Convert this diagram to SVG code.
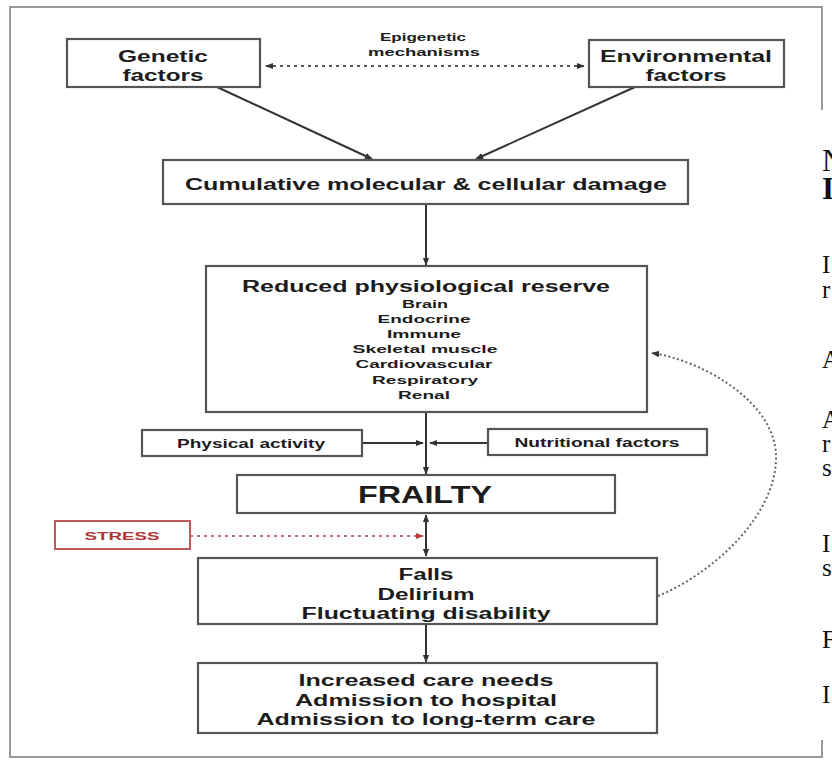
<svg xmlns="http://www.w3.org/2000/svg" width="832" height="760" viewBox="0 0 832 760">
<style>
.box{fill:#fff;stroke:#555;stroke-width:2.2}
.t{font-family:"Liberation Sans",Arial,sans-serif;font-weight:bold;fill:#1c1c1c;text-anchor:middle}
.ln{stroke:#333;stroke-width:2;fill:none}
.dot{stroke:#555;stroke-width:2;fill:none;stroke-dasharray:3 4}
.ser{font-family:"Liberation Serif","Times New Roman",serif;fill:#111}
</style>
<defs>
<marker id="ah" viewBox="0 0 10 10" refX="9" refY="5" markerWidth="8" markerHeight="8" markerUnits="userSpaceOnUse" orient="auto-start-reverse"><path d="M0,1 L10,5 L0,9 z" fill="#333"/></marker>
<marker id="ahr" viewBox="0 0 10 10" refX="9" refY="5" markerWidth="8" markerHeight="8" markerUnits="userSpaceOnUse" orient="auto"><path d="M0,1 L10,5 L0,9 z" fill="#b04040"/></marker>
</defs>
<rect width="832" height="760" fill="#fff"/>
<path d="M822,110 V7 H10 V757 H822 V740" fill="none" stroke="#999" stroke-width="2"/>

<g id="connectors">
<line class="dot" x1="266" y1="66" x2="584" y2="66" marker-start="url(#ah)" marker-end="url(#ah)"/>
<line class="ln" x1="217" y1="87" x2="372" y2="159" marker-end="url(#ah)"/>
<line class="ln" x1="635" y1="87" x2="476" y2="159" marker-end="url(#ah)"/>
<line class="ln" x1="426" y1="204" x2="426" y2="265" marker-end="url(#ah)"/>
<line class="ln" x1="426" y1="412" x2="426" y2="474" marker-end="url(#ah)"/>
<line class="ln" x1="362" y1="443" x2="423" y2="443" marker-end="url(#ah)"/>
<line class="ln" x1="488" y1="443" x2="430" y2="443" marker-end="url(#ah)"/>
<line x1="190" y1="536" x2="423" y2="536" stroke="#c07070" stroke-width="2" stroke-dasharray="3 4" marker-end="url(#ahr)"/>
<line class="ln" x1="426" y1="515" x2="426" y2="556" marker-start="url(#ah)" marker-end="url(#ah)"/>
<line class="ln" x1="426" y1="624" x2="426" y2="662" marker-end="url(#ah)"/>
<path d="M658,596 C720,570 778,510 776,455 C774,400 700,360 652,353" fill="none" stroke="#666" stroke-width="2" stroke-dasharray="2 2.5" marker-end="url(#ah)"/>
</g>

<g id="epigenetic">
<text class="t" x="423" y="41" font-size="11" textLength="86" lengthAdjust="spacingAndGlyphs">Epigenetic</text>
<text class="t" x="424" y="56" font-size="11" textLength="112" lengthAdjust="spacingAndGlyphs">mechanisms</text>
</g>

<g id="genetic">
<rect class="box" x="67" y="39" width="193" height="48"/>
<text class="t" x="163" y="62" font-size="16" textLength="90" lengthAdjust="spacingAndGlyphs">Genetic</text>
<text class="t" x="163" y="81" font-size="16" textLength="81" lengthAdjust="spacingAndGlyphs">factors</text>
</g>

<g id="environmental">
<rect class="box" x="589" y="40" width="195" height="47"/>
<text class="t" x="686" y="62" font-size="16" textLength="172" lengthAdjust="spacingAndGlyphs">Environmental</text>
<text class="t" x="686" y="81" font-size="16" textLength="81" lengthAdjust="spacingAndGlyphs">factors</text>
</g>

<g id="cumulative">
<rect class="box" x="163" y="160" width="525" height="44"/>
<text class="t" x="426" y="190" font-size="17" textLength="482" lengthAdjust="spacingAndGlyphs">Cumulative molecular &amp; cellular damage</text>
</g>

<g id="reserve">
<rect class="box" x="206" y="266" width="441" height="146"/>
<text class="t" x="426" y="292" font-size="16" textLength="368" lengthAdjust="spacingAndGlyphs">Reduced physiological reserve</text>
<text class="t" x="425" y="308" font-size="11.5" textLength="46" lengthAdjust="spacingAndGlyphs">Brain</text>
<text class="t" x="424" y="323" font-size="11.5" textLength="93" lengthAdjust="spacingAndGlyphs">Endocrine</text>
<text class="t" x="424" y="338" font-size="11.5" textLength="74" lengthAdjust="spacingAndGlyphs">Immune</text>
<text class="t" x="425" y="353" font-size="11.5" textLength="145" lengthAdjust="spacingAndGlyphs">Skeletal muscle</text>
<text class="t" x="424" y="368" font-size="11.5" textLength="137" lengthAdjust="spacingAndGlyphs">Cardiovascular</text>
<text class="t" x="425" y="384" font-size="11.5" textLength="106" lengthAdjust="spacingAndGlyphs">Respiratory</text>
<text class="t" x="424" y="399" font-size="11.5" textLength="52" lengthAdjust="spacingAndGlyphs">Renal</text>
</g>

<g id="physical">
<rect class="box" x="142" y="430" width="220" height="26"/>
<text class="t" x="251" y="448" font-size="12" textLength="148" lengthAdjust="spacingAndGlyphs">Physical activity</text>
</g>

<g id="nutritional">
<rect class="box" x="488" y="429" width="219" height="26"/>
<text class="t" x="597" y="447" font-size="12" textLength="165" lengthAdjust="spacingAndGlyphs">Nutritional factors</text>
</g>

<g id="frailty">
<rect class="box" x="237" y="475" width="378" height="38"/>
<text class="t" x="425" y="503" font-size="24" textLength="134" lengthAdjust="spacingAndGlyphs">FRAILTY</text>
</g>

<g id="stress">
<rect x="55" y="521" width="135" height="28" fill="#fff" stroke="#c05a5a" stroke-width="2"/>
<text class="t" x="122" y="540" font-size="11" style="fill:#b03535" textLength="75" lengthAdjust="spacingAndGlyphs">STRESS</text>
</g>

<g id="outcomes">
<rect class="box" x="198" y="558" width="459" height="66"/>
<text class="t" x="426" y="580" font-size="16" textLength="55" lengthAdjust="spacingAndGlyphs">Falls</text>
<text class="t" x="426" y="600" font-size="16" textLength="97" lengthAdjust="spacingAndGlyphs">Delirium</text>
<text class="t" x="426" y="619" font-size="16" textLength="249" lengthAdjust="spacingAndGlyphs">Fluctuating disability</text>
</g>

<g id="care">
<rect class="box" x="198" y="663" width="459" height="70"/>
<text class="t" x="426" y="686" font-size="16" textLength="255" lengthAdjust="spacingAndGlyphs">Increased care needs</text>
<text class="t" x="426" y="706" font-size="16" textLength="262" lengthAdjust="spacingAndGlyphs">Admission to hospital</text>
<text class="t" x="426" y="725" font-size="16" textLength="339" lengthAdjust="spacingAndGlyphs">Admission to long-term care</text>
</g>

<g id="cutoff-text">
<text class="ser" x="822" y="171" font-size="31">N</text>
<text class="ser" x="822" y="199" font-size="31" font-weight="bold">I</text>
<text class="ser" x="822" y="273" font-size="25">I</text>
<text class="ser" x="822" y="298" font-size="25">r</text>
<text class="ser" x="822" y="368" font-size="25">A</text>
<text class="ser" x="822" y="428" font-size="25">A</text>
<text class="ser" x="822" y="452" font-size="25">r</text>
<text class="ser" x="822" y="476" font-size="25">s</text>
<text class="ser" x="822" y="552" font-size="25">I</text>
<text class="ser" x="822" y="576" font-size="25">s</text>
<text class="ser" x="822" y="648" font-size="25">F</text>
<text class="ser" x="822" y="703" font-size="25">I</text>
</g>
</svg>
